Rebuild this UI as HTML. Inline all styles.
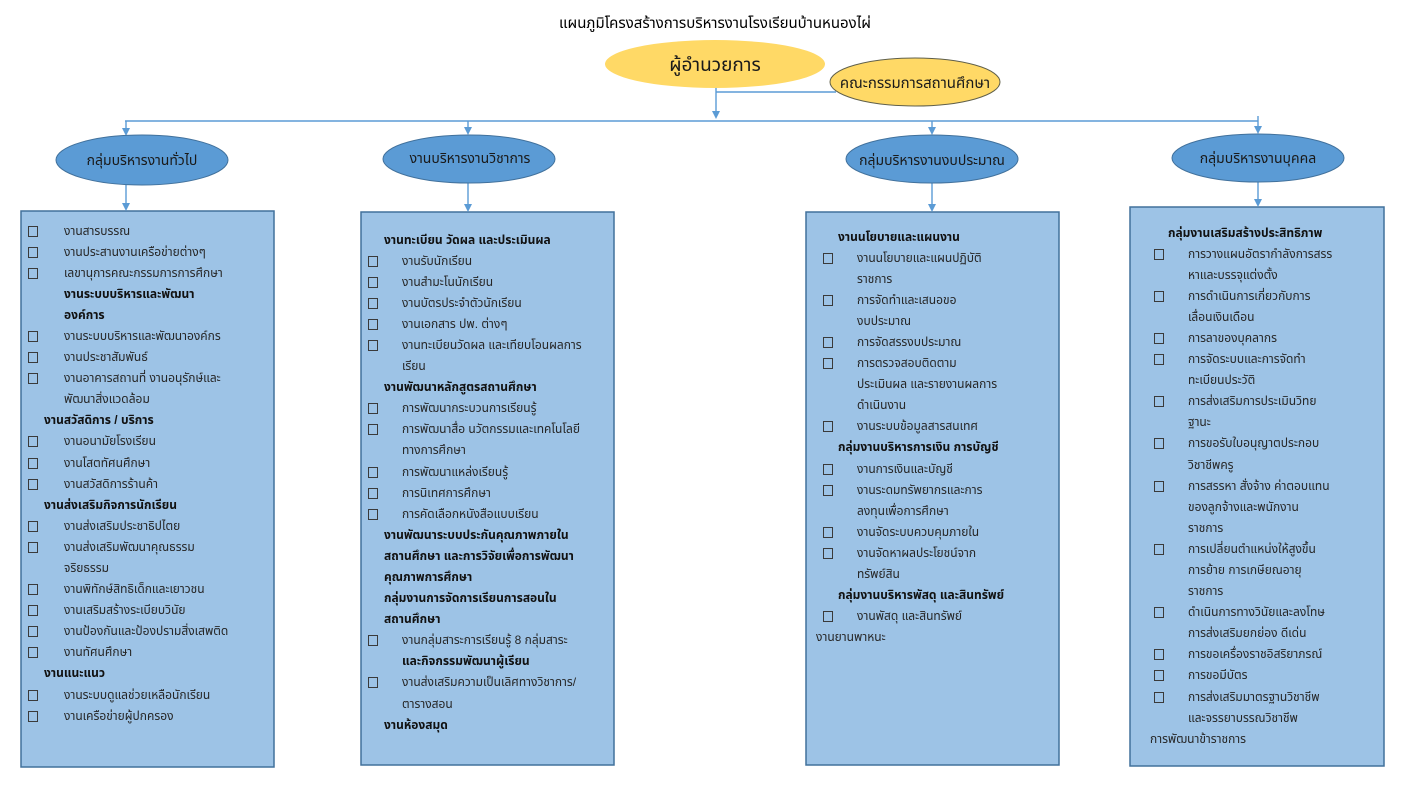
<!DOCTYPE html>
<html lang="th">
<head>
<meta charset="utf-8">
<style>
  html,body{margin:0;padding:0;background:#fff;}
  body{width:1405px;height:790px;position:relative;overflow:hidden;
       font-family:"Liberation Sans","Noto Sans Thai","Tahoma","Garuda","Loma","DejaVu Sans",sans-serif;}
  svg{position:absolute;left:0;top:0;}
  .title{position:absolute;left:0;width:1430px;top:14px;text-align:center;font-size:15px;color:#000;line-height:20px;white-space:nowrap;}
  .box{position:absolute;width:250px;}
  .l{position:relative;height:21.1px;line-height:21.1px;white-space:nowrap;font-size:12px;color:#262626;}
  .l i{position:absolute;top:5px;width:8px;height:9px;border:1px solid #3a3a3a;box-sizing:content-box;}
  .l span{position:absolute;top:0;}
  .b span{font-weight:bold;color:#111;}
</style>
</head>
<body>
<svg width="1405" height="790" viewBox="0 0 1405 790">
  <!-- boxes -->
  <rect x="21" y="211" width="253" height="556" fill="#9DC3E6" stroke="#41719C" stroke-width="1.5"/>
  <rect x="361" y="212" width="253" height="553" fill="#9DC3E6" stroke="#41719C" stroke-width="1.5"/>
  <rect x="806" y="212" width="253" height="553" fill="#9DC3E6" stroke="#41719C" stroke-width="1.5"/>
  <rect x="1130" y="207" width="254" height="559" fill="#9DC3E6" stroke="#41719C" stroke-width="1.5"/>

  <!-- connectors -->
  <g stroke="#5B9BD5" stroke-width="1.4" fill="none">
    <line x1="716" y1="86" x2="716" y2="112"/>
    <line x1="716" y1="92" x2="836" y2="92"/>
    <line x1="125" y1="121" x2="1258" y2="121"/>
    <line x1="1258" y1="116" x2="1258" y2="121"/>
    <line x1="126" y1="121" x2="126" y2="130"/>
    <line x1="468" y1="121" x2="468" y2="129"/>
    <line x1="932" y1="121" x2="932" y2="129"/>
    <line x1="1258" y1="121" x2="1258" y2="128"/>
    <line x1="126" y1="185" x2="126" y2="205"/>
    <line x1="468" y1="183" x2="468" y2="206"/>
    <line x1="932" y1="183" x2="932" y2="206"/>
    <line x1="1258" y1="182" x2="1258" y2="201"/>
  </g>
  <g fill="#5B9BD5">
    <polygon points="712,111 720,111 716,119"/>
    <polygon points="122,128 130,128 126,136"/>
    <polygon points="464,127 472,127 468,135"/>
    <polygon points="928,127 936,127 932,135"/>
    <polygon points="1254,126 1262,126 1258,134"/>
    <polygon points="122,203 130,203 126,211"/>
    <polygon points="464,204 472,204 468,212"/>
    <polygon points="928,204 936,204 932,212"/>
    <polygon points="1254,199 1262,199 1258,207"/>
  </g>

  <!-- yellow ellipses -->
  <ellipse cx="715" cy="64" rx="110" ry="24" fill="#FFD966"/>
  <ellipse cx="915" cy="82" rx="85" ry="24" fill="#FFD966" stroke="#5f5f4a" stroke-width="1"/>

  <!-- blue ellipses -->
  <ellipse cx="142" cy="160" rx="86" ry="25" fill="#5B9BD5" stroke="#41719C" stroke-width="1"/>
  <ellipse cx="469" cy="159" rx="86" ry="24" fill="#5B9BD5" stroke="#41719C" stroke-width="1"/>
  <ellipse cx="932" cy="159" rx="86" ry="24" fill="#5B9BD5" stroke="#41719C" stroke-width="1"/>
  <ellipse cx="1258" cy="158" rx="86" ry="24" fill="#5B9BD5" stroke="#41719C" stroke-width="1"/>

  <g font-family="'Liberation Sans','Noto Sans Thai','Tahoma','Garuda','Loma','DejaVu Sans',sans-serif" text-anchor="middle" fill="#1a1a1a">
    <text x="715" y="71" font-size="19">ผู้อำนวยการ</text>
    <text x="915" y="88" font-size="15">คณะกรรมการสถานศึกษา</text>
    <text x="142" y="165" font-size="14">กลุ่มบริหารงานทั่วไป</text>
    <text x="470" y="163" font-size="14">งานบริหารงานวิชาการ</text>
    <text x="932" y="165" font-size="14">กลุ่มบริหารงานงบประมาณ</text>
    <text x="1258" y="163" font-size="14">กลุ่มบริหารงานบุคคล</text>
  </g>
</svg>

<div class="title">แผนภูมิโครงสร้างการบริหารงานโรงเรียนบ้านหนองไผ่</div>

<!-- Box 1 -->
<div class="box" style="left:21px;top:220.5px;">
  <div class="l"><i style="left:7px"></i><span style="left:43px">งานสารบรรณ</span></div>
  <div class="l"><i style="left:7px"></i><span style="left:43px">งานประสานงานเครือข่ายต่างๆ</span></div>
  <div class="l"><i style="left:7px"></i><span style="left:43px">เลขานุการคณะกรรมการการศึกษา</span></div>
  <div class="l b"><span style="left:43px">งานระบบบริหารและพัฒนา</span></div>
  <div class="l b"><span style="left:43px">องค์การ</span></div>
  <div class="l"><i style="left:7px"></i><span style="left:43px">งานระบบบริหารและพัฒนาองค์กร</span></div>
  <div class="l"><i style="left:7px"></i><span style="left:43px">งานประชาสัมพันธ์</span></div>
  <div class="l"><i style="left:7px"></i><span style="left:43px">งานอาคารสถานที่ งานอนุรักษ์และ</span></div>
  <div class="l"><span style="left:43px">พัฒนาสิ่งแวดล้อม</span></div>
  <div class="l b"><span style="left:23px">งานสวัสดิการ / บริการ</span></div>
  <div class="l"><i style="left:7px"></i><span style="left:43px">งานอนามัยโรงเรียน</span></div>
  <div class="l"><i style="left:7px"></i><span style="left:43px">งานโสตทัศนศึกษา</span></div>
  <div class="l"><i style="left:7px"></i><span style="left:43px">งานสวัสดิการร้านค้า</span></div>
  <div class="l b"><span style="left:23px">งานส่งเสริมกิจการนักเรียน</span></div>
  <div class="l"><i style="left:7px"></i><span style="left:43px">งานส่งเสริมประชาธิปไตย</span></div>
  <div class="l"><i style="left:7px"></i><span style="left:43px">งานส่งเสริมพัฒนาคุณธรรม</span></div>
  <div class="l"><span style="left:43px">จริยธรรม</span></div>
  <div class="l"><i style="left:7px"></i><span style="left:43px">งานพิทักษ์สิทธิเด็กและเยาวชน</span></div>
  <div class="l"><i style="left:7px"></i><span style="left:43px">งานเสริมสร้างระเบียบวินัย</span></div>
  <div class="l"><i style="left:7px"></i><span style="left:43px">งานป้องกันและป้องปรามสิ่งเสพติด</span></div>
  <div class="l"><i style="left:7px"></i><span style="left:43px">งานทัศนศึกษา</span></div>
  <div class="l b"><span style="left:23px">งานแนะแนว</span></div>
  <div class="l"><i style="left:7px"></i><span style="left:43px">งานระบบดูแลช่วยเหลือนักเรียน</span></div>
  <div class="l"><i style="left:7px"></i><span style="left:43px">งานเครือข่ายผู้ปกครอง</span></div>
</div>

<!-- Box 2 -->
<div class="box" style="left:361px;top:229.5px;">
  <div class="l b"><span style="left:23px">งานทะเบียน วัดผล และประเมินผล</span></div>
  <div class="l"><i style="left:7px"></i><span style="left:41px">งานรับนักเรียน</span></div>
  <div class="l"><i style="left:7px"></i><span style="left:41px">งานสำมะโนนักเรียน</span></div>
  <div class="l"><i style="left:7px"></i><span style="left:41px">งานบัตรประจำตัวนักเรียน</span></div>
  <div class="l"><i style="left:7px"></i><span style="left:41px">งานเอกสาร ปพ. ต่างๆ</span></div>
  <div class="l"><i style="left:7px"></i><span style="left:41px">งานทะเบียนวัดผล และเทียบโอนผลการ</span></div>
  <div class="l"><span style="left:41px">เรียน</span></div>
  <div class="l b"><span style="left:23px">งานพัฒนาหลักสูตรสถานศึกษา</span></div>
  <div class="l"><i style="left:7px"></i><span style="left:41px">การพัฒนากระบวนการเรียนรู้</span></div>
  <div class="l"><i style="left:7px"></i><span style="left:41px">การพัฒนาสื่อ นวัตกรรมและเทคโนโลยี</span></div>
  <div class="l"><span style="left:41px">ทางการศึกษา</span></div>
  <div class="l"><i style="left:7px"></i><span style="left:41px">การพัฒนาแหล่งเรียนรู้</span></div>
  <div class="l"><i style="left:7px"></i><span style="left:41px">การนิเทศการศึกษา</span></div>
  <div class="l"><i style="left:7px"></i><span style="left:41px">การคัดเลือกหนังสือแบบเรียน</span></div>
  <div class="l b"><span style="left:23px">งานพัฒนาระบบประกันคุณภาพภายใน</span></div>
  <div class="l b"><span style="left:23px">สถานศึกษา และการวิจัยเพื่อการพัฒนา</span></div>
  <div class="l b"><span style="left:23px">คุณภาพการศึกษา</span></div>
  <div class="l b"><span style="left:23px">กลุ่มงานการจัดการเรียนการสอนใน</span></div>
  <div class="l b"><span style="left:23px">สถานศึกษา</span></div>
  <div class="l"><i style="left:7px"></i><span style="left:41px">งานกลุ่มสาระการเรียนรู้ 8 กลุ่มสาระ</span></div>
  <div class="l b"><span style="left:41px">และกิจกรรมพัฒนาผู้เรียน</span></div>
  <div class="l"><i style="left:7px"></i><span style="left:41px">งานส่งเสริมความเป็นเลิศทางวิชาการ/</span></div>
  <div class="l"><span style="left:41px">ตารางสอน</span></div>
  <div class="l b"><span style="left:23px">งานห้องสมุด</span></div>
</div>

<!-- Box 3 -->
<div class="box" style="left:806px;top:226.5px;">
  <div class="l b"><span style="left:32px">งานนโยบายและแผนงาน</span></div>
  <div class="l"><i style="left:17px"></i><span style="left:51px">งานนโยบายและแผนปฏิบัติ</span></div>
  <div class="l"><span style="left:51px">ราชการ</span></div>
  <div class="l"><i style="left:17px"></i><span style="left:51px">การจัดทำและเสนอขอ</span></div>
  <div class="l"><span style="left:51px">งบประมาณ</span></div>
  <div class="l"><i style="left:17px"></i><span style="left:51px">การจัดสรรงบประมาณ</span></div>
  <div class="l"><i style="left:17px"></i><span style="left:51px">การตรวจสอบติดตาม</span></div>
  <div class="l"><span style="left:51px">ประเมินผล และรายงานผลการ</span></div>
  <div class="l"><span style="left:51px">ดำเนินงาน</span></div>
  <div class="l"><i style="left:17px"></i><span style="left:51px">งานระบบข้อมูลสารสนเทศ</span></div>
  <div class="l b"><span style="left:32px">กลุ่มงานบริหารการเงิน การบัญชี</span></div>
  <div class="l"><i style="left:17px"></i><span style="left:51px">งานการเงินและบัญชี</span></div>
  <div class="l"><i style="left:17px"></i><span style="left:51px">งานระดมทรัพยากรและการ</span></div>
  <div class="l"><span style="left:51px">ลงทุนเพื่อการศึกษา</span></div>
  <div class="l"><i style="left:17px"></i><span style="left:51px">งานจัดระบบควบคุมภายใน</span></div>
  <div class="l"><i style="left:17px"></i><span style="left:51px">งานจัดหาผลประโยชน์จาก</span></div>
  <div class="l"><span style="left:51px">ทรัพย์สิน</span></div>
  <div class="l b"><span style="left:32px">กลุ่มงานบริหารพัสดุ และสินทรัพย์</span></div>
  <div class="l"><i style="left:17px"></i><span style="left:51px">งานพัสดุ และสินทรัพย์</span></div>
  <div class="l"><span style="left:10px">งานยานพาหนะ</span></div>
</div>

<!-- Box 4 -->
<div class="box" style="left:1130px;top:222.5px;">
  <div class="l b"><span style="left:38px">กลุ่มงานเสริมสร้างประสิทธิภาพ</span></div>
  <div class="l"><i style="left:24px"></i><span style="left:58px">การวางแผนอัตรากำลังการสรร</span></div>
  <div class="l"><span style="left:58px">หาและบรรจุแต่งตั้ง</span></div>
  <div class="l"><i style="left:24px"></i><span style="left:58px">การดำเนินการเกี่ยวกับการ</span></div>
  <div class="l"><span style="left:58px">เลื่อนเงินเดือน</span></div>
  <div class="l"><i style="left:24px"></i><span style="left:58px">การลาของบุคลากร</span></div>
  <div class="l"><i style="left:24px"></i><span style="left:58px">การจัดระบบและการจัดทำ</span></div>
  <div class="l"><span style="left:58px">ทะเบียนประวัติ</span></div>
  <div class="l"><i style="left:24px"></i><span style="left:58px">การส่งเสริมการประเมินวิทย</span></div>
  <div class="l"><span style="left:58px">ฐานะ</span></div>
  <div class="l"><i style="left:24px"></i><span style="left:58px">การขอรับใบอนุญาตประกอบ</span></div>
  <div class="l"><span style="left:58px">วิชาชีพครู</span></div>
  <div class="l"><i style="left:24px"></i><span style="left:58px">การสรรหา สั่งจ้าง ค่าตอบแทน</span></div>
  <div class="l"><span style="left:58px">ของลูกจ้างและพนักงาน</span></div>
  <div class="l"><span style="left:58px">ราชการ</span></div>
  <div class="l"><i style="left:24px"></i><span style="left:58px">การเปลี่ยนตำแหน่งให้สูงขึ้น</span></div>
  <div class="l"><span style="left:58px">การย้าย การเกษียณอายุ</span></div>
  <div class="l"><span style="left:58px">ราชการ</span></div>
  <div class="l"><i style="left:24px"></i><span style="left:58px">ดำเนินการทางวินัยและลงโทษ</span></div>
  <div class="l"><span style="left:58px">การส่งเสริมยกย่อง ดีเด่น</span></div>
  <div class="l"><i style="left:24px"></i><span style="left:58px">การขอเครื่องราชอิสริยาภรณ์</span></div>
  <div class="l"><i style="left:24px"></i><span style="left:58px">การขอมีบัตร</span></div>
  <div class="l"><i style="left:24px"></i><span style="left:58px">การส่งเสริมมาตรฐานวิชาชีพ</span></div>
  <div class="l"><span style="left:58px">และจรรยาบรรณวิชาชีพ</span></div>
  <div class="l"><span style="left:20px">การพัฒนาข้าราชการ</span></div>
</div>

</body>
</html>
